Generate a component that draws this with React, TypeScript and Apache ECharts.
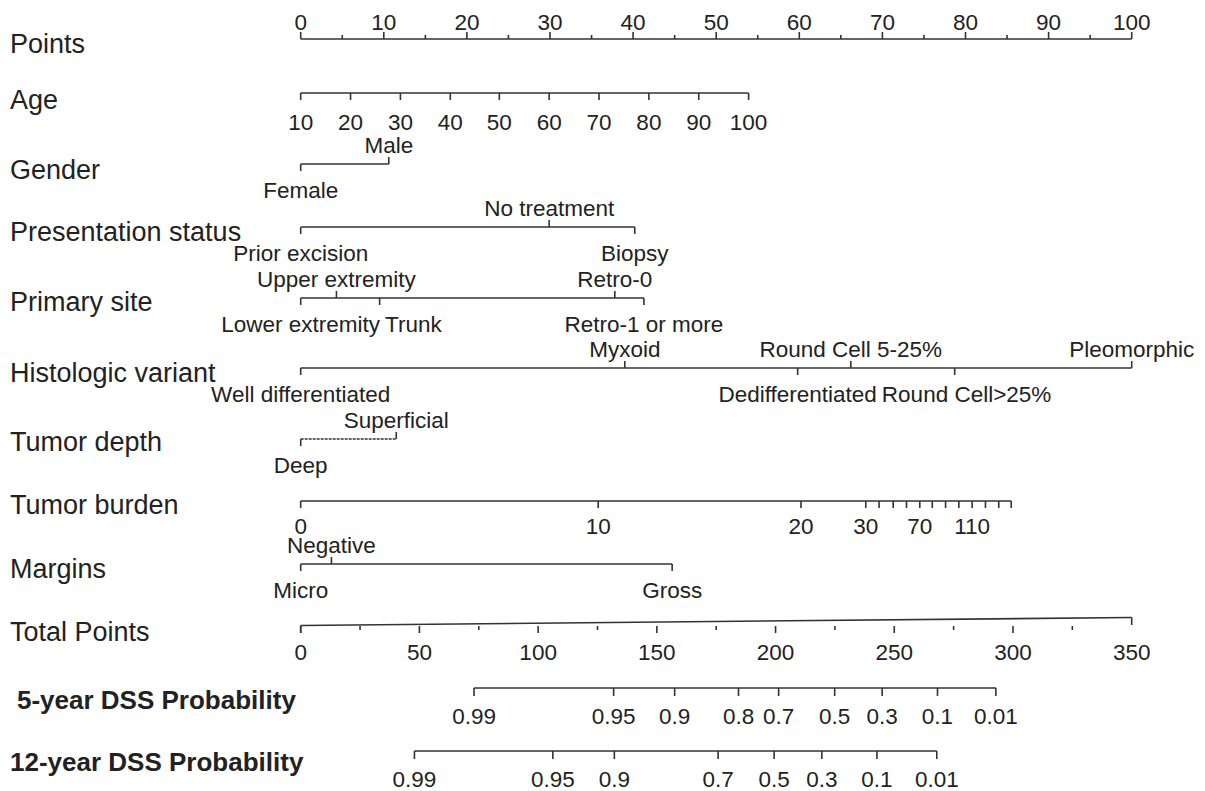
import React, { useEffect, useRef } from "react";
import * as echarts from "echarts";

// ---------- data ----------
const pointsTicks = [0, 5, 10, 15, 20, 25, 30, 35, 40, 45, 50, 55, 60, 65, 70, 75, 80, 85, 90, 95, 100];
const pointsLabels = [0, 10, 20, 30, 40, 50, 60, 70, 80, 90, 100];

const ageValues = ["10", "20", "30", "40", "50", "60", "70", "80", "90", "100"];
const agePoints = [0, 6.0, 12.0, 18.0, 23.9, 29.9, 35.9, 41.9, 47.9, 53.9];

const genderLevels = ["Female", "Male"];
const genderPoints = [0, 10.6];

const presentationLevels = ["Prior excision", "No treatment", "Biopsy"];
const presentationPoints = [0, 29.9, 40.2];

const siteLevels = ["Lower extremity", "Upper extremity", "Trunk", "Retro-0", "Retro-1 or more"];
const sitePoints = [0, 4.3, 9.5, 37.8, 41.3];

const histLevels = ["Well differentiated", "Myxoid", "Dedifferentiated", "Round Cell 5-25%", "Round Cell>25%", "Pleomorphic"];
const histPoints = [0, 39.0, 59.8, 66.2, 78.7, 100];

const depthLevels = ["Deep", "Superficial"];
const depthPoints = [0, 11.5];

const burdenValues = [0, 10, 20, 30, 40, 50, 60, 70, 80, 90, 100, 110, 120, 130, 140];
const burdenPoints = [0, 35.8, 60.2, 68.0, 69.6, 71.3, 72.9, 74.5, 76.0, 77.6, 79.2, 80.8, 82.4, 84.0, 85.5];
const burdenLabeled = [0, 10, 20, 30, 70, 110];

const marginLevels = ["Micro", "Negative", "Gross"];
const marginPoints = [0, 3.7, 44.7];

const totalTicks = [0, 25, 50, 75, 100, 125, 150, 175, 200, 225, 250, 275, 300, 325, 350];
const totalLabels = [0, 50, 100, 150, 200, 250, 300, 350];

const dss5Labels = ["0.99", "0.95", "0.9", "0.8", "0.7", "0.5", "0.3", "0.1", "0.01"];
const dss5Total = [73.0, 131.8, 157.5, 184.4, 201.3, 224.9, 244.9, 268.2, 292.8];

const dss12Labels = ["0.99", "0.95", "0.9", "0.7", "0.5", "0.3", "0.1", "0.01"];
const dss12Total = [47.9, 106.2, 132.1, 175.8, 199.4, 219.5, 242.7, 267.9];

// ---------- layout ----------
const FONT = '"Liberation Sans", Arial, Helvetica, sans-serif';
const LABEL_SIZE = 22.5;
const TITLE_SIZE = 27;
const BOLD_SIZE = 26;
const INK = "#222";
const LINE = "#333";

interface Tick { v: number; y0: number; y1: number }
interface Lab { v: number; text: string; y: number; avoid?: boolean }
interface Row { lineFrom: number; lineTo: number; lineY0: number; lineY1: number; ticks: Tick[]; labels: Lab[]; dash?: number[] }

const ABOVE = 18.5;
const BELOW = 26;
const TICK = 7;

function catRow(levels: string[], pts: number[], y: number, dash?: number[]): Row {
  const idx = pts.map((_, i) => i).sort((a, b) => pts[a] - pts[b]);
  const ticks: Tick[] = [];
  const labels: Lab[] = [];
  idx.forEach((i, k) => {
    const up = k % 2 === 1;
    ticks.push({ v: pts[i], y0: y, y1: up ? y - TICK : y + TICK });
    labels.push({ v: pts[i], text: levels[i], y: up ? y - ABOVE : y + BELOW, avoid: true });
  });
  return { lineFrom: pts[idx[0]], lineTo: pts[idx[idx.length - 1]], lineY0: y, lineY1: y, ticks, labels, dash };
}

function buildPointRows(): Row[] {
  const rows: Row[] = [];
  const py = 39;
  rows.push({
    lineFrom: 0, lineTo: 100, lineY0: py, lineY1: py,
    ticks: pointsTicks.map((v) => ({ v, y0: py, y1: py - (v % 10 === 0 ? 7 : 4) })),
    labels: pointsLabels.map((v) => ({ v, text: String(v), y: py - 17 })),
  });
  const ay = 93;
  rows.push({
    lineFrom: agePoints[0], lineTo: agePoints[agePoints.length - 1], lineY0: ay, lineY1: ay,
    ticks: agePoints.map((v) => ({ v, y0: ay, y1: ay + TICK })),
    labels: agePoints.map((v, i) => ({ v, text: ageValues[i], y: ay + 29 })),
  });
  rows.push(catRow(genderLevels, genderPoints, 164));
  rows.push(catRow(presentationLevels, presentationPoints, 227));
  rows.push(catRow(siteLevels, sitePoints, 298));
  rows.push(catRow(histLevels, histPoints, 368));
  rows.push(catRow(depthLevels, depthPoints, 439, [3, 1]));
  const by = 501;
  rows.push({
    lineFrom: 0, lineTo: burdenPoints[burdenPoints.length - 1], lineY0: by, lineY1: by,
    ticks: burdenPoints.map((v) => ({ v, y0: by, y1: by + TICK })),
    labels: burdenLabeled.map((b) => ({ v: burdenPoints[burdenValues.indexOf(b)], text: String(b), y: by + 25 })),
  });
  rows.push(catRow(marginLevels, marginPoints, 564));
  return rows;
}

function buildTotalRows(): Row[] {
  const rows: Row[] = [];
  const ty = 626;
  const ticks: Tick[] = totalTicks
    .filter((v) => v !== 350)
    .map((v) => ({ v, y0: ty, y1: ty + (v % 50 === 0 ? 7 : 4) }));
  ticks.push({ v: 0, y0: 625.5, y1: 633 });
  ticks.push({ v: 350, y0: 617.5, y1: 625 });
  rows.push({
    lineFrom: 0, lineTo: 350, lineY0: 625.5, lineY1: 617.5,
    ticks,
    labels: totalLabels.map((v) => ({ v, text: String(v), y: 652 })),
  });
  const probRow = (labels: string[], tot: number[], y: number): Row => ({
    lineFrom: tot[0], lineTo: tot[tot.length - 1], lineY0: y, lineY1: y,
    ticks: tot.map((v) => ({ v, y0: y, y1: y + 8 })),
    labels: tot.map((v, i) => ({ v, text: labels[i], y: y + 28 })),
  });
  rows.push(probRow(dss5Labels, dss5Total, 688));
  rows.push(probRow(dss12Labels, dss12Total, 751));
  return rows;
}

const titles: { text: string; x: number; y: number; bold?: boolean }[] = [
  { text: "Points", x: 10, y: 44 },
  { text: "Age", x: 10, y: 100 },
  { text: "Gender", x: 10, y: 170 },
  { text: "Presentation status", x: 10, y: 232 },
  { text: "Primary site", x: 10, y: 302 },
  { text: "Histologic variant", x: 10, y: 373 },
  { text: "Tumor depth", x: 10, y: 442 },
  { text: "Tumor burden", x: 10, y: 505 },
  { text: "Margins", x: 10, y: 569 },
  { text: "Total Points", x: 10, y: 632 },
  { text: "5-year DSS Probability", x: 17, y: 700, bold: true },
  { text: "12-year DSS Probability", x: 10, y: 762, bold: true },
];

let measureCtx: CanvasRenderingContext2D | null = null;
function textWidth(t: string): number {
  if (!measureCtx) measureCtx = document.createElement("canvas").getContext("2d");
  if (!measureCtx) return t.length * LABEL_SIZE * 0.5;
  measureCtx.font = `${LABEL_SIZE}px ${FONT}`;
  return measureCtx.measureText(t).width;
}

function makeRenderer(rows: Row[]) {
  return (params: any, api: any) => {
    const r = rows[params.dataIndex];
    const P = (v: number, y: number) => api.coord([v, y]);
    const children: any[] = [];
    const a = P(r.lineFrom, r.lineY0);
    const b = P(r.lineTo, r.lineY1);
    children.push({
      type: "line",
      shape: { x1: a[0], y1: a[1], x2: b[0], y2: b[1] },
      style: { stroke: LINE, lineWidth: 1.6, lineDash: r.dash || null },
    });
    r.ticks.forEach((t) => {
      const p0 = P(t.v, t.y0);
      const p1 = P(t.v, t.y1);
      children.push({
        type: "line",
        shape: { x1: p0[0], y1: p0[1], x2: p1[0], y2: p1[1] },
        style: { stroke: LINE, lineWidth: 1.6 },
      });
    });
    const placed = r.labels.map((l) => {
      const p = P(l.v, l.y);
      return { l, x: p[0], y: p[1], w: textWidth(l.text) };
    });
    const sides: Record<string, typeof placed> = {};
    placed.forEach((q) => {
      const k = String(Math.round(q.y));
      (sides[k] = sides[k] || []).push(q);
    });
    Object.keys(sides).forEach((k) => {
      const list = sides[k].sort((m, n) => m.x - n.x);
      let prevRight = -Infinity;
      list.forEach((q) => {
        let left = q.x - q.w / 2;
        if (q.l.avoid && left < prevRight + 5) {
          left = prevRight + 5;
          q.x = left + q.w / 2;
        }
        prevRight = left + q.w;
      });
    });
    placed.forEach((q) => {
      children.push({
        type: "text",
        x: q.x,
        y: q.y,
        style: {
          text: q.l.text,
          fontSize: LABEL_SIZE,
          fontFamily: FONT,
          fill: INK,
          align: "center",
          verticalAlign: "middle",
        },
      });
    });
    return { type: "group", children };
  };
}

export default function App() {
  const ref = useRef<HTMLDivElement>(null);
  useEffect(() => {
    const el = ref.current;
    if (!el) return;
    const chart = echarts.init(el, null, { renderer: "svg" });
    const pointRows = buildPointRows();
    const totalRows = buildTotalRows();
    chart.setOption({
      animation: false,
      backgroundColor: "#fff",
      grid: { left: 300.7, right: 73.3, top: 0, bottom: 0 },
      xAxis: [
        { type: "value", min: 0, max: 100, show: false },
        { type: "value", min: 0, max: 350, show: false },
      ],
      yAxis: { type: "value", min: 0, max: 791, inverse: true, show: false },
      graphic: titles.map((t) => ({
        type: "text",
        x: t.x,
        y: t.y,
        style: {
          text: t.text,
          fontSize: t.bold ? BOLD_SIZE : TITLE_SIZE,
          fontWeight: t.bold ? "bold" : "normal",
          fontFamily: FONT,
          fill: INK,
          align: "left",
          verticalAlign: "middle",
        },
      })),
      series: [
        {
          type: "custom",
          xAxisIndex: 0,
          yAxisIndex: 0,
          clip: false,
          silent: true,
          data: pointRows.map(() => [0, 0]),
          renderItem: makeRenderer(pointRows),
        },
        {
          type: "custom",
          xAxisIndex: 1,
          yAxisIndex: 0,
          clip: false,
          silent: true,
          data: totalRows.map(() => [0, 0]),
          renderItem: makeRenderer(totalRows),
        },
      ],
    });
    return () => chart.dispose();
  }, []);
  return (
    <div
      ref={ref}
      style={{ position: "fixed", left: 0, top: 0, width: 1205, height: 791, background: "#fff" }}
    />
  );
}
